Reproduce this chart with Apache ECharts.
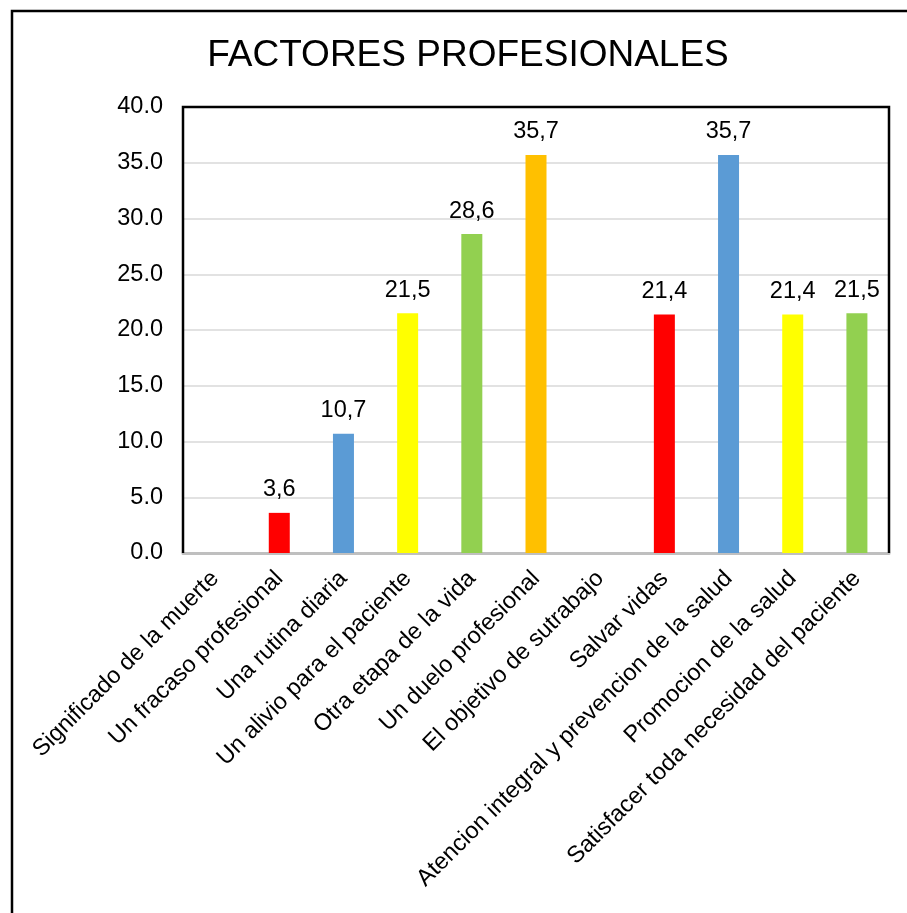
<!DOCTYPE html>
<html>
<head>
<meta charset="utf-8">
<script src="https://cdn.jsdelivr.net/npm/echarts@6/dist/echarts.min.js"></script>
<style>
  html, body { margin: 0; padding: 0; background: #fff; }
  #chart { width: 907px; height: 913px; }
</style>
</head>
<body>
<div id="chart"></div>
<script>
const titleText = 'FACTORES PROFESIONALES';
const categories = [
  'Significado de la muerte',
  'Un fracaso profesional',
  'Una rutina diaria',
  'Un alivio para el paciente',
  'Otra etapa de la vida',
  'Un duelo profesional',
  'El objetivo de sutrabajo',
  'Salvar vidas',
  'Atencion integral y prevencion de la salud',
  'Promocion de la salud',
  'Satisfacer toda necesidad del paciente'
];
const values = [0, 3.6, 10.7, 21.5, 28.6, 35.7, 0, 21.4, 35.7, 21.4, 21.5];
const barColors = ['#5B9BD5', '#FF0000', '#5B9BD5', '#FFFF00', '#92D050', '#FFC000',
                   '#5B9BD5', '#FF0000', '#5B9BD5', '#FFFF00', '#92D050'];
const yTicks = { min: 0, max: 40, interval: 5 };

const font = 'Liberation Sans, Arial, sans-serif';
const gridBox = { left: 183, top: 107, right: 18, bottom: 360 };
const chart = echarts.init(document.getElementById('chart'));

chart.setOption({
  backgroundColor: '#ffffff',
  animation: false,
  title: {
    text: titleText,
    left: 463,
    textAlign: 'center',
    top: 32,
    textStyle: { fontFamily: font, fontSize: 37, fontWeight: 'normal', color: '#000' }
  },
  graphic: [{
    // outer chart frame
    type: 'rect',
    shape: { x: 12, y: 11, width: 1000, height: 1000 },
    style: { fill: 'none', stroke: '#000', lineWidth: 2.5 },
    silent: true
  }, {
    // plot-area frame: left, top and right edges in black
    type: 'polyline',
    z: 10,
    shape: {
      points: [
        [gridBox.left, 913 - gridBox.bottom],
        [gridBox.left, gridBox.top],
        [907 - gridBox.right, gridBox.top],
        [907 - gridBox.right, 913 - gridBox.bottom]
      ]
    },
    style: { fill: 'none', stroke: '#000', lineWidth: 2.5 },
    silent: true
  }],
  grid: Object.assign({ show: false }, gridBox),
  xAxis: {
    type: 'category',
    data: categories,
    axisLine: { show: true, lineStyle: { color: '#BFBFBF', width: 3 } },
    axisTick: { show: false },
    axisLabel: {
      rotate: 45, interval: 0, margin: 22,
      fontFamily: font, fontSize: 23.5, color: '#000'
    }
  },
  yAxis: {
    type: 'value',
    min: yTicks.min, max: yTicks.max, interval: yTicks.interval,
    axisLine: { show: false },
    axisTick: { show: false },
    splitLine: { lineStyle: { color: '#D9D9D9', width: 1.5 } },
    axisLabel: {
      margin: 20, fontFamily: font, fontSize: 23.5, color: '#000',
      formatter: v => v.toFixed(1)
    }
  },
  series: [{
    type: 'bar',
    barWidth: 21,
    data: values.map((v, i) => ({ value: v, itemStyle: { color: barColors[i] } })),
    label: {
      show: true, position: 'top', distance: 11,
      fontFamily: font, fontSize: 23.5, color: '#000',
      formatter: p => p.value === 0 ? '' : p.value.toFixed(1).replace('.', ',')
    }
  }]
});
</script>
</body>
</html>
